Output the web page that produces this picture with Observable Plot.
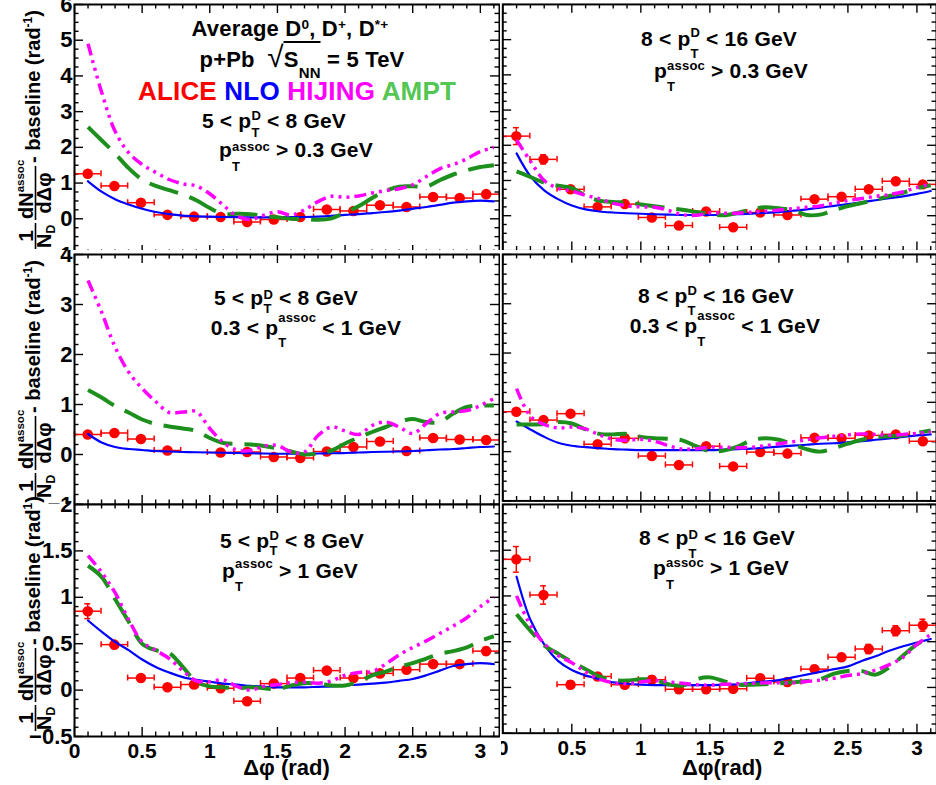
<!DOCTYPE html>
<html><head><meta charset="utf-8">
<script src="https://cdn.jsdelivr.net/npm/d3@7"></script>
<script src="https://cdn.jsdelivr.net/npm/@observablehq/plot@0.6"></script>
<style>
body{margin:0;background:#fff;}
#chart{position:relative;width:936px;height:785px;overflow:hidden;background:#fff;font-family:"Liberation Sans",Arial,Helvetica,sans-serif;font-weight:bold;}
.pad{position:absolute;overflow:hidden;}
.pad svg{position:absolute;left:0;top:0;}
.ann{position:absolute;white-space:nowrap;line-height:1;color:#000;letter-spacing:0.2px;}
.st{display:inline-block;height:0;font-size:0.62em;line-height:1;text-align:left;}
.st>span{display:block;height:0;position:relative;}
.sp{font-size:0.62em;position:relative;top:-0.55em;}
.sb{font-size:0.68em;position:relative;top:0.7em;}
.rad{font-size:1.35em;line-height:0;font-weight:normal;}
.ov{border-top:2px solid #000;padding-top:4px;}
</style></head><body><div id="chart"></div><script>
// ---------- data ----------
const binCenters = [0.098,0.295,0.491,0.687,0.884,1.080,1.276,1.473,1.669,1.865,2.062,2.258,2.454,2.651,2.847,3.043];
const binHalfWidth = 0.098;
const phiGrid = [0.1,0.2,0.3,0.4,0.5,0.6,0.7,0.8,0.9,1.0,1.1,1.2,1.3,1.4,1.5,1.6,1.7,1.8,1.9,2.0,2.1,2.2,2.3,2.4,2.5,2.6,2.7,2.8,2.9,3.0,3.1];

// row 1, left: 5<pT<8, pT assoc>0.3
const aliceTL = [1.26,0.92,0.45,0.11,0.06,0.05,-0.09,-0.02,0.05,0.26,0.22,0.38,0.33,0.61,0.58,0.69];
const errTL   = [0.08,0.06,0.05,0.05,0.05,0.05,0.05,0.05,0.05,0.05,0.05,0.05,0.05,0.05,0.05,0.05];
const nloTL    = [1.05,0.76,0.55,0.40,0.28,0.19,0.13,0.09,0.07,0.06,0.05,0.045,0.04,0.04,0.045,0.045,0.05,0.06,0.08,0.11,0.13,0.16,0.19,0.23,0.28,0.33,0.39,0.45,0.49,0.51,0.49];
const hijingTL = [4.9,3.55,2.45,1.85,1.52,1.30,1.10,0.98,0.92,0.70,0.38,0.08,-0.02,0.10,0.20,0.10,0.25,0.48,0.63,0.60,0.64,0.72,0.79,0.84,0.95,1.18,1.40,1.52,1.68,1.88,2.0];
const amptTL   = [2.57,2.20,1.83,1.42,1.10,0.92,0.80,0.68,0.52,0.30,0.14,0.14,0.13,0.08,0.04,0.0,-0.01,-0.03,0.01,0.18,0.35,0.58,0.78,0.90,0.91,0.90,1.08,1.24,1.36,1.45,1.50];

// row 1, right: 8<pT<16, pT assoc>0.3
const aliceTR = [2.26,1.60,0.75,0.25,0.33,-0.05,-0.28,0.12,-0.33,0.09,0.02,0.47,0.54,0.75,0.98,0.89];
const errTR   = [0.24,0.13,0.07,0.06,0.06,0.06,0.06,0.06,0.06,0.06,0.06,0.06,0.06,0.06,0.07,0.08];
const nloTR    = [1.77,1.12,0.72,0.47,0.29,0.18,0.12,0.09,0.07,0.055,0.04,0.03,0.02,0.02,0.02,0.03,0.04,0.06,0.08,0.10,0.14,0.18,0.23,0.28,0.33,0.38,0.44,0.50,0.55,0.62,0.70];
const hijingTR = [2.15,1.55,1.0,0.78,0.70,0.58,0.48,0.35,0.28,0.25,0.24,0.15,0.03,0.01,0.08,0.07,0.07,0.10,0.13,0.16,0.20,0.24,0.28,0.36,0.43,0.49,0.55,0.60,0.68,0.80,0.90];
const amptTR   = [1.26,1.10,0.94,0.85,0.78,0.57,0.43,0.39,0.37,0.32,0.27,0.22,0.17,0.11,0.05,0.01,0.08,0.18,0.24,0.21,0.16,0.02,0.03,0.15,0.27,0.36,0.45,0.56,0.65,0.78,0.86];

// row 2, left: 5<pT<8, 0.3<pT assoc<1
const aliceML = [0.40,0.43,0.31,0.08,null,0.04,0.05,-0.05,-0.07,0.06,0.15,0.26,0.07,0.33,0.30,0.29];
const errML   = [0.04,0.04,0.04,0.04,0.04,0.04,0.04,0.04,0.04,0.04,0.04,0.04,0.04,0.04,0.04,0.04];
const nloML    = [0.41,0.24,0.15,0.11,0.09,0.07,0.06,0.05,0.045,0.04,0.035,0.03,0.025,0.02,0.015,0.015,0.015,0.02,0.025,0.03,0.04,0.05,0.055,0.06,0.07,0.085,0.10,0.11,0.13,0.15,0.16];
const hijingML = [3.48,2.85,2.15,1.65,1.32,1.06,0.84,0.85,0.86,0.52,0.24,0.09,0.08,0.17,0.18,0.05,0.05,0.38,0.55,0.47,0.40,0.58,0.65,0.55,0.42,0.62,0.82,0.85,0.88,0.98,1.12];
const amptML   = [1.29,1.14,0.97,0.84,0.70,0.61,0.56,0.52,0.47,0.33,0.23,0.21,0.20,0.17,0.12,0.06,0.0,0.02,0.08,0.22,0.34,0.45,0.55,0.65,0.71,0.65,0.65,0.82,0.95,0.98,0.98];

// row 2, right: 8<pT<16, 0.3<pT assoc<1
const aliceMR = [0.81,0.64,0.77,0.15,0.27,-0.09,-0.27,0.11,-0.30,-0.01,-0.04,0.28,0.27,0.33,0.35,0.21];
const errMR   = [0.06,0.05,0.05,0.04,0.04,0.04,0.04,0.04,0.04,0.04,0.04,0.04,0.04,0.04,0.04,0.05];
const nloMR    = [0.61,0.45,0.30,0.18,0.12,0.09,0.07,0.05,0.04,0.03,0.03,0.03,0.03,0.03,0.03,0.04,0.05,0.06,0.08,0.10,0.12,0.14,0.16,0.17,0.19,0.21,0.24,0.27,0.30,0.33,0.35];
const hijingMR = [1.28,0.72,0.55,0.48,0.50,0.46,0.34,0.25,0.23,0.25,0.21,0.12,0.05,0.06,0.09,0.09,0.08,0.09,0.12,0.16,0.20,0.24,0.28,0.31,0.34,0.36,0.35,0.33,0.35,0.37,0.40];
const amptMR   = [0.55,0.55,0.56,0.60,0.57,0.45,0.36,0.35,0.36,0.30,0.27,0.26,0.23,0.11,0.01,0.02,0.10,0.23,0.27,0.24,0.15,0.05,0.0,0.07,0.16,0.24,0.29,0.31,0.33,0.38,0.43];

// row 3, left: 5<pT<8, pT assoc>1
const aliceBL = [0.85,0.49,0.13,0.03,0.06,0.02,-0.12,0.07,0.13,0.21,0.13,0.18,0.22,0.28,0.28,0.42];
const errBL   = [0.08,0.04,0.03,0.03,0.03,0.03,0.03,0.03,0.03,0.03,0.03,0.03,0.03,0.03,0.03,0.04];
const nloBL    = [0.75,0.63,0.52,0.43,0.33,0.25,0.19,0.14,0.11,0.09,0.07,0.06,0.045,0.035,0.03,0.03,0.03,0.035,0.04,0.05,0.06,0.07,0.08,0.10,0.12,0.16,0.21,0.26,0.28,0.29,0.28];
const hijingBL = [1.45,1.27,1.05,0.76,0.52,0.43,0.34,0.21,0.10,0.09,0.11,0.04,0.0,0.04,0.06,0.08,0.085,0.075,0.10,0.16,0.19,0.20,0.28,0.38,0.46,0.53,0.61,0.69,0.78,0.90,1.0];
const amptBL   = [1.34,1.22,0.98,0.74,0.50,0.43,0.40,0.25,0.09,0.04,0.03,0.02,0.03,0.02,0.01,0.05,0.075,0.07,0.05,0.05,0.09,0.16,0.20,0.25,0.29,0.34,0.39,0.42,0.46,0.53,0.58];

// row 3, right: 8<pT<16, pT assoc>1
const aliceBR = [1.40,1.01,0.03,0.12,0.03,0.085,-0.02,-0.02,-0.015,0.10,0.06,0.20,0.33,0.42,0.62,0.68];
const errBR   = [0.14,0.10,0.04,0.04,0.04,0.04,0.04,0.04,0.04,0.04,0.04,0.04,0.04,0.05,0.055,0.065];
const nloBR    = [1.21,0.74,0.47,0.29,0.19,0.13,0.09,0.055,0.04,0.03,0.025,0.025,0.025,0.025,0.025,0.03,0.035,0.05,0.065,0.08,0.11,0.14,0.17,0.20,0.23,0.29,0.34,0.40,0.45,0.49,0.53];
const hijingBR = [1.0,0.68,0.48,0.35,0.27,0.17,0.09,0.05,0.04,0.06,0.075,0.06,0.045,0.03,0.025,0.035,0.04,0.045,0.05,0.05,0.05,0.065,0.08,0.10,0.13,0.15,0.19,0.25,0.33,0.47,0.58];
const amptBR   = [0.80,0.62,0.46,0.37,0.28,0.20,0.12,0.08,0.075,0.09,0.08,0.035,0.02,0.09,0.11,0.07,0.03,0.03,0.035,0.045,0.055,0.07,0.09,0.15,0.18,0.18,0.14,0.22,0.35,0.47,0.55];

// axis domains / tick steps per row
const rowDomains = [[-1, 6], [-1, 4], [-0.5, 2]];
const rowMajor   = [1, 1, 0.5];
const rowMinor   = [0.25, 0.2, 0.1];
const xDomain = [0, Math.PI];

// colours
const cAlice = "#ff0000", cNlo = "#0000ff", cHijing = "#ff00ff", cAmpt = "#1c8f1c", cAmptText = "#53c653";
const FONT = '"Liberation Sans", Arial, Helvetica, sans-serif';

// ---------- helpers ----------
function steps(lo, hi, step) {
  const n0 = Math.ceil(lo / step - 1e-9), n1 = Math.floor(hi / step + 1e-9);
  return d3.range(n0, n1 + 1).map(i => +(i * step).toFixed(4));
}
function minors(lo, hi, step, majors) {
  return steps(lo, hi, step).filter(v => !majors.some(m => Math.abs(m - v) < 1e-6));
}
const fmt = d => (d < 0 ? "\u2212" : "") + Math.abs(d);

const chart = document.getElementById("chart");

function makePanel(p) {
  const pad = document.createElement("div");
  pad.className = "pad";
  Object.assign(pad.style, {left: p.left + "px", top: p.top + "px", width: p.clipW + "px", height: p.clipH + "px"});
  chart.appendChild(pad);
  const W = p.svgW, H = p.svgH;
  const plotW = W - p.mL - p.mR, plotH = H - p.mT - p.mB;
  const yDom = rowDomains[p.row];
  const xMaj = steps(xDomain[0], xDomain[1], 0.5), xMin = minors(xDomain[0], xDomain[1], 0.1, xMaj);
  const yMaj = steps(yDom[0], yDom[1], rowMajor[p.row]), yMin = minors(yDom[0], yDom[1], rowMinor[p.row], yMaj);
  const pts = binCenters.map((x, i) => ({x, y: p.alice[i], e: p.err[i]})).filter(d => d.y != null);
  const curve = arr => phiGrid.map((x, i) => ({x, y: arr[i]}));
  const LM = 9, Lm = 4.5;
  const tk = {stroke: "#000", strokeWidth: 1.4};
  const marks = [
    Plot.tickX(xMaj, {x: d => d, insetTop: plotH - LM, ...tk}),
    Plot.tickX(xMin, {x: d => d, insetTop: plotH - Lm, ...tk}),
    Plot.tickX(xMaj, {x: d => d, insetBottom: plotH - LM, ...tk}),
    Plot.tickX(xMin, {x: d => d, insetBottom: plotH - Lm, ...tk}),
    Plot.tickY(yMaj, {y: d => d, insetRight: plotW - LM, ...tk}),
    Plot.tickY(yMin, {y: d => d, insetRight: plotW - Lm, ...tk}),
    Plot.tickY(yMaj, {y: d => d, insetLeft: plotW - LM, ...tk}),
    Plot.tickY(yMin, {y: d => d, insetLeft: plotW - Lm, ...tk}),
    // ALICE error bars
    Plot.ruleY(pts, {y: "y", x1: d => d.x - binHalfWidth, x2: d => d.x + binHalfWidth, stroke: cAlice, strokeWidth: 1.5}),
    Plot.ruleX(pts, {x: d => d.x - binHalfWidth, y1: "y", y2: "y", insetTop: -3, insetBottom: -3, stroke: cAlice, strokeWidth: 1.5}),
    Plot.ruleX(pts, {x: d => d.x + binHalfWidth, y1: "y", y2: "y", insetTop: -3, insetBottom: -3, stroke: cAlice, strokeWidth: 1.5}),
    Plot.ruleX(pts, {x: "x", y1: d => d.y - d.e, y2: d => d.y + d.e, stroke: cAlice, strokeWidth: 1.5}),
    Plot.ruleY(pts, {y: d => d.y + d.e, x1: "x", x2: "x", insetLeft: -3, insetRight: -3, stroke: cAlice, strokeWidth: 1.5}),
    Plot.ruleY(pts, {y: d => d.y - d.e, x1: "x", x2: "x", insetLeft: -3, insetRight: -3, stroke: cAlice, strokeWidth: 1.5}),
    Plot.dot(pts, {x: "x", y: "y", r: 5.3, fill: cAlice, stroke: "none"}),
    // models
    Plot.line(curve(p.nlo), {x: "x", y: "y", stroke: cNlo, strokeWidth: 2.2, curve: "catmull-rom"}),
    Plot.line(curve(p.ampt), {x: "x", y: "y", stroke: cAmpt, strokeWidth: 4, strokeDasharray: "30 12", strokeLinecap: "butt", curve: "catmull-rom"}),
    Plot.line(curve(p.hijing), {x: "x", y: "y", stroke: cHijing, strokeWidth: 3.5, strokeDasharray: "12 5 3 5 3 5 3 5", strokeLinecap: "butt", curve: "catmull-rom"}),
    Plot.frame({stroke: "#000", strokeWidth: 2})
  ];
  if (p.yLabels) marks.push(Plot.axisY({anchor: "left", ticks: yMaj, tickSize: 0, tickPadding: 2, tickFormat: fmt, label: null, fontSize: 22, fontWeight: "bold", fontFamily: FONT}));
  if (p.xLabels) marks.push(Plot.axisX({anchor: "bottom", ticks: xMaj, tickSize: 0, tickPadding: 7, tickFormat: fmt, label: null, fontSize: 21, fontWeight: "bold", fontFamily: FONT}));
  const svg = Plot.plot({
    width: W, height: H,
    marginLeft: p.mL, marginRight: p.mR, marginTop: p.mT, marginBottom: p.mB,
    x: {domain: xDomain, axis: p.xLabels ? undefined : null, label: null},
    y: {domain: yDom, axis: p.yLabels ? undefined : null, label: null},
    style: {background: "transparent", fontFamily: FONT, fontWeight: "bold", color: "#000"},
    marks
  });
  pad.appendChild(svg);
}

// layout: left column SVG 0..500 (x range 74..499), right column SVG from 501 (x range 502.3..942)
const cols = [
  {left: 0, clipW: 500, svgW: 500, mL: 74, mR: 1},
  {left: 501, clipW: 435, svgW: 441.2, mL: 1.3, mR: 0}
];
const rows = [
  {top: 0,   clipH: 250, svgH: 258, mT: 4, mB: 4},
  {top: 250, clipH: 254, svgH: 262, mT: 4, mB: 8},
  {top: 501, clipH: 284, svgH: 284, mT: 3, mB: 49}
];
const panelData = [
  [ {alice: aliceTL, err: errTL, nlo: nloTL, hijing: hijingTL, ampt: amptTL},
    {alice: aliceTR, err: errTR, nlo: nloTR, hijing: hijingTR, ampt: amptTR} ],
  [ {alice: aliceML, err: errML, nlo: nloML, hijing: hijingML, ampt: amptML},
    {alice: aliceMR, err: errMR, nlo: nloMR, hijing: hijingMR, ampt: amptMR} ],
  [ {alice: aliceBL, err: errBL, nlo: nloBL, hijing: hijingBL, ampt: amptBL},
    {alice: aliceBR, err: errBR, nlo: nloBR, hijing: hijingBR, ampt: amptBR} ]
];
rows.forEach((r, ri) => cols.forEach((c, ci) => {
  makePanel({...r, ...c, row: ri, ...panelData[ri][ci], yLabels: ci === 0, xLabels: ri === 2});
}));

// ---------- overlay: axis titles ----------
const ov = d3.select("#chart").append("svg")
  .attr("width", 936).attr("height", 785)
  .style("position", "absolute").style("left", 0).style("top", 0)
  .style("pointer-events", "none")
  .style("font-family", FONT).style("font-weight", "bold");
const rowBottoms = [254, 504, 736];
const radSup = ["-1", "-1", "1"];
rowBottoms.forEach((yb, k) => {
  const g = ov.append("g").attr("transform", `translate(0,${yb}) rotate(-90)`);
  g.append("text").attr("x", 18).attr("y", 33).attr("text-anchor", "middle").attr("font-size", 21).text("1");
  g.append("line").attr("x1", 5).attr("x2", 31).attr("y1", 35.5).attr("y2", 35.5).attr("stroke", "#000").attr("stroke-width", 1.6);
  const den = g.append("text").attr("x", 6).attr("y", 51).attr("font-size", 20);
  den.append("tspan").text("N");
  den.append("tspan").attr("font-size", 12).attr("dy", 4).text("D");
  const num = g.append("text").attr("x", 35).attr("y", 33).attr("font-size", 20);
  num.append("tspan").text("dN");
  num.append("tspan").attr("font-size", 11.5).attr("dy", -9).text("assoc");
  g.append("line").attr("x1", 34).attr("x2", 88).attr("y1", 35.5).attr("y2", 35.5).attr("stroke", "#000").attr("stroke-width", 1.6);
  g.append("text").attr("x", 61).attr("y", 51).attr("text-anchor", "middle").attr("font-size", 20).text("d\u0394\u03C6");
  const main = g.append("text").attr("x", 91).attr("y", 40).attr("font-size", 20);
  main.append("tspan").text("- baseline (rad");
  main.append("tspan").attr("font-size", 12).attr("dy", -8).text(radSup[k]);
  main.append("tspan").attr("dy", 8).text(")");
});
ov.append("text").attr("x", 74 + 135.3 * Math.PI / 2).attr("y", 775).attr("text-anchor", "middle").attr("font-size", 22).text("\u0394\u03C6 (rad)");
ov.append("text").attr("x", 502.3 + 140 * Math.PI / 2).attr("y", 775).attr("text-anchor", "middle").attr("font-size", 22).text("\u0394\u03C6(rad)");

// ---------- annotations ----------
function ann(cx, base, fs, html) {
  const d = document.createElement("div");
  d.className = "ann";
  d.style.fontSize = fs + "px";
  d.style.left = cx + "px";
  d.style.top = (base - 0.8465 * fs) + "px";
  d.style.transform = "translateX(-50%)";
  d.innerHTML = html;
  chart.appendChild(d);
}
const stack = (sup, sub, up, down) =>
  `<span class="st"><span style="top:-${up}em">${sup}</span><span style="top:${down}em">${sub}</span></span>`;

ann(290, 37, 22, 'Average D<span class="sp">0</span>, D<span class="sp">+</span>, D<span class="sp">*+</span>');
ann(302, 68, 22, 'p+Pb &nbsp;<span class="rad">\u221A</span><span class="ov">S<span class="sb">NN</span></span> = 5 TeV');
ann(297, 100, 26, `<span style="color:${cAlice}">ALICE</span> <span style="color:${cNlo}">NLO</span> <span style="color:${cHijing}">HIJING</span> <span style="color:${cAmptText}">AMPT</span>`);
ann(274, 128, 21, `5 &lt; p${stack("D", "T", 0.64, 0.67)} &lt; 8 GeV`);
ann(296, 157, 21, `p${stack("assoc", "T", 0.46, 1.08)} &gt; 0.3 GeV`);

ann(719, 46, 21, `8 &lt; p${stack("D", "T", 0.72, 0.87)} &lt; 16 GeV`);
ann(731, 78, 21, `p${stack("assoc", "T", 0.64, 0.95)} &gt; 0.3 GeV`);

ann(286, 305, 21, `5 &lt; p${stack("D", "T", 0.5, 0.62)} &lt; 8 GeV`);
ann(306, 335, 21, `0.3 &lt; p${stack("assoc", "T", 1.05, 0.9)} &lt; 1 GeV`);

ann(716, 303, 21, `8 &lt; p${stack("D", "T", 0.64, 0.9)} &lt; 16 GeV`);
ann(725, 333, 21, `0.3 &lt; p${stack("assoc", "T", 1.02, 1.02)} &lt; 1 GeV`);

ann(292, 548, 21, `5 &lt; p${stack("D", "T", 0.64, 0.5)} &lt; 8 GeV`);
ann(290, 578, 21, `p${stack("assoc", "T", 0.77, 1.02)} &gt; 1 GeV`);

ann(717, 545, 21, `8 &lt; p${stack("D", "T", 0.5, 1.02)} &lt; 16 GeV`);
ann(721, 575, 21, `p${stack("assoc", "T", 0.64, 1.08)} &gt; 1 GeV`);
</script></body></html>
